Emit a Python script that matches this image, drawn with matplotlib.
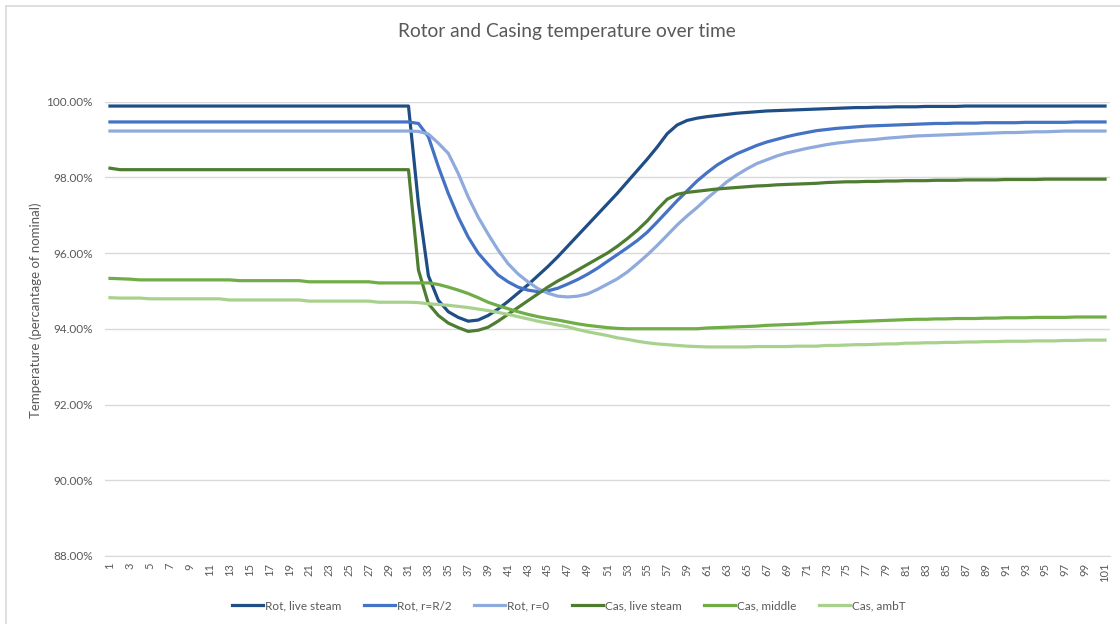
import matplotlib
matplotlib.use("Agg")
import matplotlib.pyplot as plt
from matplotlib.ticker import FuncFormatter, FixedLocator
from matplotlib.lines import Line2D

plt.rcParams['font.family'] = ['Lato', 'DejaVu Sans']

# Time steps 1..101
steps = list(range(1, 102))

# Rotor temperatures (% of nominal)
rot_live = [99.88] * 31 + [
    97.3, 95.4, 94.75, 94.45, 94.3, 94.2, 94.23, 94.35, 94.52, 94.72,
    94.94, 95.16, 95.4, 95.64, 95.9, 96.18, 96.46, 96.74, 97.02, 97.3,
    97.58, 97.88, 98.18, 98.48, 98.8, 99.15, 99.38, 99.5, 99.56, 99.6,
    99.63, 99.66, 99.69, 99.71, 99.73, 99.75, 99.76, 99.77, 99.78, 99.79,
    99.8, 99.81, 99.82, 99.83, 99.84, 99.84, 99.85, 99.85, 99.86, 99.86,
    99.86, 99.87, 99.87, 99.87, 99.87, 99.88, 99.88, 99.88, 99.88, 99.88,
    99.88, 99.88, 99.88, 99.88, 99.88, 99.88, 99.88, 99.88, 99.88, 99.88,
]
rot_half = [99.46] * 31 + [
    99.42, 99.07, 98.28, 97.57, 96.95, 96.42, 96.0, 95.7, 95.42, 95.24,
    95.1, 95.02, 94.98, 95.0, 95.07, 95.18, 95.3, 95.44, 95.6, 95.78,
    95.96, 96.14, 96.33, 96.55, 96.82, 97.1, 97.38, 97.64, 97.9, 98.12,
    98.32, 98.48, 98.62, 98.73, 98.84, 98.93, 99.0, 99.07, 99.13, 99.18,
    99.23, 99.26, 99.29, 99.31, 99.33, 99.35, 99.36, 99.37, 99.38, 99.39,
    99.4, 99.41, 99.42, 99.42, 99.43, 99.43, 99.43, 99.44, 99.44, 99.44,
    99.44, 99.45, 99.45, 99.45, 99.45, 99.45, 99.46, 99.46, 99.46, 99.46,
]
rot_center = [99.22] * 31 + [
    99.21, 99.14, 98.9, 98.63, 98.1, 97.48, 96.95, 96.5, 96.08, 95.72,
    95.45, 95.24, 95.06, 94.94, 94.86, 94.84, 94.86, 94.92, 95.04, 95.18,
    95.32, 95.5, 95.72, 95.95, 96.2, 96.47, 96.74, 96.98, 97.2, 97.44,
    97.66, 97.88, 98.06, 98.22, 98.36, 98.46, 98.56, 98.64, 98.7, 98.76,
    98.81, 98.86, 98.9, 98.93, 98.96, 98.98, 99.0, 99.03, 99.05, 99.07,
    99.09, 99.1, 99.11, 99.12, 99.13, 99.14, 99.15, 99.16, 99.17, 99.18,
    99.18, 99.19, 99.2, 99.2, 99.21, 99.22, 99.22, 99.22, 99.22, 99.22,
]

# Casing temperatures (% of nominal)
cas_live = [98.24] + [98.2] * 30 + [
    95.55, 94.66, 94.35, 94.15, 94.03, 93.93, 93.96, 94.04, 94.2, 94.38,
    94.56, 94.74, 94.92, 95.1, 95.26, 95.4, 95.55, 95.7, 95.85, 96.0,
    96.18, 96.38, 96.6, 96.85, 97.15, 97.42, 97.55, 97.6, 97.63, 97.66,
    97.69, 97.71, 97.73, 97.75, 97.77, 97.78, 97.8, 97.81, 97.82, 97.83,
    97.84, 97.86, 97.87, 97.88, 97.88, 97.89, 97.89, 97.9, 97.9, 97.91,
    97.91, 97.91, 97.92, 97.92, 97.92, 97.93, 97.93, 97.93, 97.93, 97.94,
    97.94, 97.94, 97.94, 97.95, 97.95, 97.95, 97.95, 97.95, 97.95, 97.95,
]
cas_mid = [95.33, 95.32, 95.31] + [95.29] * 10 + [95.27] * 7 + [95.24] * 7 + [95.21] * 4 + [
    95.21, 95.21, 95.17, 95.1, 95.02, 94.93, 94.82, 94.7, 94.61, 94.53,
    94.45, 94.38, 94.32, 94.27, 94.23, 94.18, 94.13, 94.09, 94.06, 94.03,
    94.01, 94.0, 94.0, 94.0, 94.0, 94.0, 94.0, 94.0, 94.0, 94.02,
    94.03, 94.04, 94.05, 94.06, 94.07, 94.09, 94.1, 94.11, 94.12, 94.13,
    94.15, 94.16, 94.17, 94.18, 94.19, 94.2, 94.21, 94.22, 94.23, 94.24,
    94.25, 94.25, 94.26, 94.26, 94.27, 94.27, 94.27, 94.28, 94.28, 94.29,
    94.29, 94.29, 94.3, 94.3, 94.3, 94.3, 94.31, 94.31, 94.31, 94.31,
]
cas_amb = [94.82, 94.81, 94.81, 94.81] + [94.79] * 8 + [94.76] * 8 + [94.73] * 7 + [94.7] * 4 + [
    94.69, 94.66, 94.64, 94.62, 94.59, 94.56, 94.52, 94.48, 94.43, 94.38,
    94.32, 94.26, 94.2, 94.15, 94.1, 94.05, 93.98, 93.92, 93.87, 93.82,
    93.76, 93.72, 93.67, 93.63, 93.6, 93.58, 93.56, 93.54, 93.53, 93.52,
    93.52, 93.52, 93.52, 93.52, 93.53, 93.53, 93.53, 93.53, 93.54, 93.54,
    93.54, 93.56, 93.56, 93.57, 93.58, 93.58, 93.59, 93.6, 93.6, 93.62,
    93.62, 93.63, 93.63, 93.64, 93.64, 93.65, 93.65, 93.66, 93.66, 93.67,
    93.67, 93.67, 93.68, 93.68, 93.68, 93.69, 93.69, 93.7, 93.7, 93.7,
]

series_names = ["Rot, live steam", "Rot, r=R/2", "Rot, r=0",
                "Cas, live steam", "Cas, middle", "Cas, ambT"]
series_values = [rot_live, rot_half, rot_center, cas_live, cas_mid, cas_amb]
series_colors = ["#1F4E86", "#4472C4", "#8FAADC", "#4E7D32", "#70AD47", "#A9D18E"]

y_ticks = [88, 90, 92, 94, 96, 98, 100]
x_tick_labels = [str(s) for s in steps[::2]]

W, H = 1120, 624
fig = plt.figure(figsize=(W / 100, H / 100), dpi=100)

# chart frame (top and left edges visible)
fig.add_artist(Line2D([6 / W, 6 / W], [0, 1 - 6 / H], transform=fig.transFigure,
                      color="#D9D9D9", lw=1.2))
fig.add_artist(Line2D([6 / W, 1], [1 - 6 / H, 1 - 6 / H], transform=fig.transFigure,
                      color="#D9D9D9", lw=1.2))

left, right = 105 / W, 1110 / W
top, bottom = 1 - 101.5 / H, 1 - 556 / H
ax = fig.add_axes([left, bottom, right - left, top - bottom])

for vals, name, col in zip(series_values, series_names, series_colors):
    ax.plot(steps, vals, color=col, lw=2.3, label=name, solid_joinstyle="round")

ax.set_xlim(0.5, 101.5)
ax.set_ylim(88, 100)
ax.yaxis.set_major_locator(FixedLocator(y_ticks))
ax.yaxis.set_major_formatter(FuncFormatter(lambda v, p: f"{v:.2f}%"))
ax.set_xticks(steps[::2])
ax.set_xticklabels(x_tick_labels, rotation=90)
ax.grid(axis="y", color="#D9D9D9", lw=1.0)
ax.set_axisbelow(True)
for sp in ["top", "right", "left"]:
    ax.spines[sp].set_visible(False)
ax.spines["bottom"].set_color("#D9D9D9")
ax.tick_params(axis="both", length=0, colors="#595959", labelsize=8.5)
ax.tick_params(axis="y", pad=9)
ax.tick_params(axis="x", pad=5, labelsize=8)

fig.text(36 / W, 1 - 310 / H, "Temperature (percantage of nominal)", rotation=90,
         ha="center", va="center", fontsize=9.5, color="#595959")

fig.text(567 / W, 1 - 32 / H, "Rotor and Casing temperature over time",
         ha="center", va="center", fontsize=13.8, color="#595959")

handles, labels = ax.get_legend_handles_labels()
leg = fig.legend(handles, labels, loc="center", ncol=6,
                 bbox_to_anchor=(569 / W, 1 - 606 / H), frameon=False,
                 fontsize=8.5, handlelength=2.6, handletextpad=0.2,
                 columnspacing=1.9)
for t in leg.get_texts():
    t.set_color("#595959")

fig.savefig("out.png", dpi=100)
